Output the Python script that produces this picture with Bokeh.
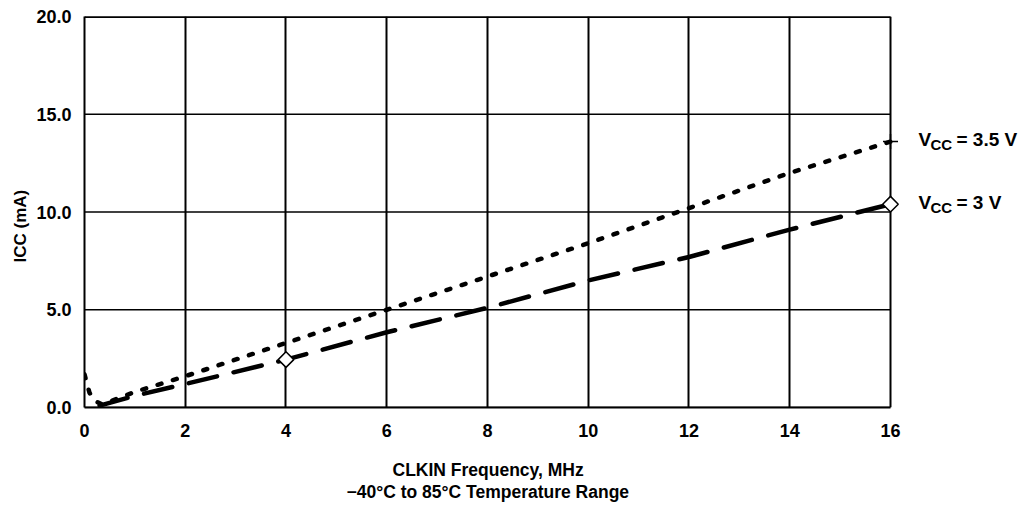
from bokeh.plotting import figure
from bokeh.models import Range1d, FixedTicker, PrintfTickFormatter, Label, Title
from bokeh.embed import file_html
from bokeh.resources import INLINE
import math

# Data
freq_35 = [0.0, 0.05, 0.1, 0.2, 0.35, 0.5, 1.0, 2.0, 4.0, 6.0, 8.0, 10.0, 12.0, 14.0, 16.0]
icc_35 = [1.7, 1.2, 0.75, 0.35, 0.15, 0.3, 0.8, 1.6, 3.3, 5.0, 6.7, 8.4, 10.2, 12.0, 13.6]
freq_3 = [0.3, 1.0, 2.0, 4.0, 6.0, 8.0, 10.0, 12.0, 14.0, 16.0]
icc_3 = [0.1, 0.6, 1.2, 2.45, 3.85, 5.1, 6.5, 7.7, 9.1, 10.4]
diamond_x = [4.0, 16.0]
diamond_y = [2.45, 10.4]
cross_x = [16.0]
cross_y = [13.6]
x_ticks = [0, 2, 4, 6, 8, 10, 12, 14, 16]
y_ticks = [0, 5, 10, 15, 20]
series_labels = [("V", "CC", "= 3.5 V", 13.6), ("V", "CC", "= 3 V", 10.4)]
x_title_lines = ["CLKIN Frequency, MHz", "\u221240\u00b0C to 85\u00b0C Temperature Range"]
y_title = "ICC (mA)"

FONT = "Liberation Sans"
X_MAX = 16
X_VIEW = 18.68

p = figure(width=1027, height=503, output_backend="svg", toolbar_location=None,
           x_range=Range1d(0, X_VIEW), y_range=Range1d(0, 20),
           min_border_left=84, min_border_right=2, min_border_top=16, min_border_bottom=96)
p.background_fill_color = "white"
p.border_fill_color = "white"
p.outline_line_color = None

p.xaxis.ticker = FixedTicker(ticks=x_ticks)
p.yaxis.ticker = FixedTicker(ticks=y_ticks)
p.yaxis.formatter = PrintfTickFormatter(format="%.1f")
p.xaxis.bounds = (0, X_MAX)
for ax in (p.xaxis[0], p.yaxis[0]):
    ax.axis_line_color = "black"
    ax.axis_line_width = 2
    ax.major_tick_line_color = None
    ax.minor_tick_line_color = None
    ax.major_label_text_font = FONT
    ax.major_label_text_font_style = "bold"
    ax.major_label_text_font_size = "18px"
    ax.major_label_text_color = "black"
p.xaxis.major_label_standoff = 10
p.yaxis.major_label_standoff = 7
# blank spacer label to push the title lines down
p.xaxis.axis_label = " "
p.xaxis.axis_label_text_font_size = "10px"
p.xaxis.axis_label_standoff = 4

p.xgrid.grid_line_color = "black"
p.xgrid.grid_line_width = 2
p.ygrid.grid_line_color = None

# horizontal grid lines limited to the data area (0..16)
p.segment(x0=[0] * len(y_ticks), x1=[X_MAX] * len(y_ticks), y0=y_ticks, y1=y_ticks,
          line_color="black", line_width=1.3)
p.segment(x0=[0], x1=[X_MAX], y0=[y_ticks[-1]], y1=[y_ticks[-1]], line_color="black", line_width=3)

# curves
p.line(freq_35, icc_35, line_color="black", line_width=4.5, line_dash="4 12", line_cap="round")
p.line(freq_3, icc_3, line_color="black", line_width=4.5, line_dash="29 17", line_cap="round")
p.scatter(diamond_x, diamond_y, marker="square", angle=math.pi / 4, size=11, fill_color="white",
          line_color="black", line_width=1.5)
p.scatter(cross_x, cross_y, marker="cross", size=15, line_color="black", line_width=1.5)

# series labels
for main, sub, rest, yv in series_labels:
    p.add_layout(Label(x=X_MAX, y=yv, x_offset=28, y_offset=2, text=main, text_font=FONT, text_font_style="bold",
                       text_font_size="19px", text_baseline="middle", text_color="black"))
    p.add_layout(Label(x=X_MAX, y=yv, x_offset=40, y_offset=-3, text=sub, text_font=FONT, text_font_style="bold",
                       text_font_size="15px", text_baseline="middle", text_color="black"))
    p.add_layout(Label(x=X_MAX, y=yv, x_offset=66, y_offset=2, text=rest, text_font=FONT, text_font_style="bold",
                       text_font_size="19px", text_baseline="middle", text_color="black"))

# y axis label
p.add_layout(Title(text=y_title, align="left", offset=145, text_font=FONT, text_font_style="bold",
                   text_font_size="17px", text_color="black", standoff=8), "left")

# x axis title lines, centred under the 0..16 span
p.add_layout(Title(text=x_title_lines[0], align="left", offset=308, text_font=FONT, text_font_style="bold",
                   text_font_size="17.5px", text_color="black", standoff=0), "below")
p.add_layout(Title(text=x_title_lines[1], align="left", offset=262, text_font=FONT, text_font_style="bold",
                   text_font_size="17.5px", text_color="black", standoff=0), "below")

open("out.html", "w").write(file_html(p, INLINE))
